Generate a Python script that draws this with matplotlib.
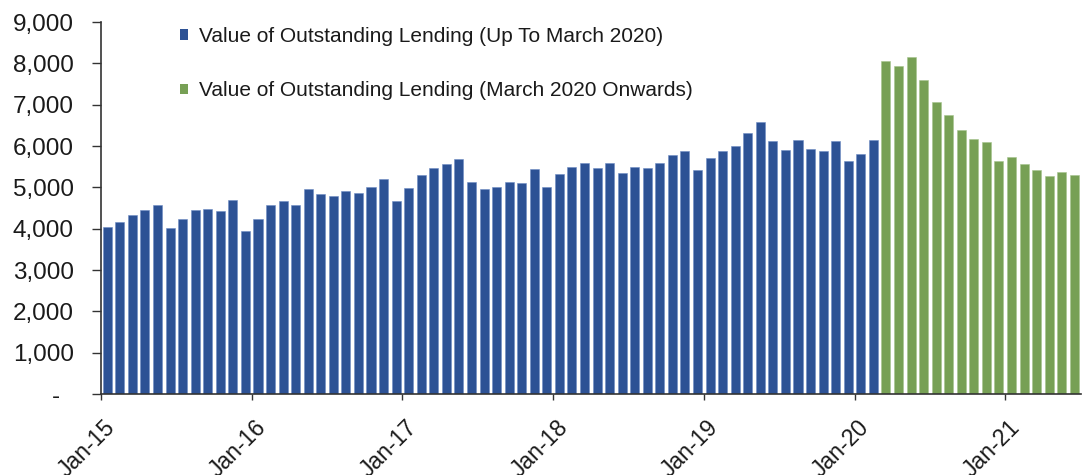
import matplotlib
matplotlib.use("Agg")
import matplotlib.pyplot as plt
from matplotlib.patches import Patch
from matplotlib.ticker import FuncFormatter, FixedLocator
from matplotlib.transforms import ScaledTranslation

plt.rcParams["font.family"] = ["Liberation Sans", "DejaVu Sans"]

# Monthly value of outstanding lending, Jan-2015 .. Feb-2020
lending_to_feb20 = [
    4050, 4160, 4330, 4450, 4570, 4020, 4230, 4450, 4480, 4420, 4700, 3950,
    4230, 4580, 4670, 4580, 4950, 4830, 4800, 4920, 4860, 5010, 5200, 4680,
    4980, 5290, 5470, 5570, 5690, 5140, 4950, 5020, 5140, 5100, 5440, 5020,
    5320, 5500, 5600, 5470, 5600, 5350, 5500, 5470, 5600, 5780, 5870, 5420,
    5720, 5870, 5990, 6310, 6580, 6120, 5900, 6150, 5940, 5870, 6120, 5630,
    5820, 6150,
]
# Mar-2020 .. Jun-2021
lending_from_mar20 = [
    8060, 7940, 8150, 7590, 7060, 6760, 6380, 6160, 6100, 5630,
    5730, 5570, 5420, 5270, 5380, 5300,
]
year_labels = ["Jan-15", "Jan-16", "Jan-17", "Jan-18", "Jan-19", "Jan-20", "Jan-21"]
series_names = [
    "Value of Outstanding Lending (Up To March 2020)",
    "Value of Outstanding Lending (March 2020 Onwards)",
]

BLUE = "#2D5295"
GREEN = "#77A055"
TEXT = "#1a1a1a"

n_before = len(lending_to_feb20)
n_after = len(lending_from_mar20)
n_total = n_before + n_after

fig = plt.figure(figsize=(10.86, 4.75), dpi=100)
ax = fig.add_axes([0.093, 0.1705, 0.902, 0.783])

x_before = [i + 0.5 for i in range(n_before)]
x_after = [n_before + i + 0.5 for i in range(n_after)]
ax.bar(x_before, lending_to_feb20, width=0.72, color=BLUE, edgecolor="#6f8cc4", linewidth=0.4)
ax.bar(x_after, lending_from_mar20, width=0.72, color=GREEN, edgecolor="#a6c48e", linewidth=0.4)

ax.set_xlim(0, n_total)
ax.set_ylim(0, 9000)

# y axis
ax.set_yticks(range(0, 9001, 1000))
ax.yaxis.set_major_formatter(FuncFormatter(lambda v, p: "-  " if v == 0 else f"{int(v):,}"))
ax.tick_params(axis="y", direction="out", length=6.5, width=1, pad=13,
               labelsize=17.5, labelcolor=TEXT, color="#333333")

# x axis: one tick per January
ax.xaxis.set_major_locator(FixedLocator([12 * k for k in range(len(year_labels))]))
ax.set_xticklabels(year_labels, rotation=45, ha="right", va="center",
                   rotation_mode="anchor", fontsize=16.5, color=TEXT)
ax.tick_params(axis="x", direction="out", length=4.5, width=1, pad=2, color="#333333")
offset = ScaledTranslation(11 / 100, -21 / 100, fig.dpi_scale_trans)
for lbl in ax.get_xticklabels():
    lbl.set_transform(lbl.get_transform() + offset)

for side in ("top", "right"):
    ax.spines[side].set_visible(False)
for side in ("left", "bottom"):
    ax.spines[side].set_color("#333333")
    ax.spines[side].set_linewidth(1.2)

handles = [Patch(facecolor=BLUE, edgecolor="none"), Patch(facecolor=GREEN, edgecolor="none")]
fig.legend(handles, series_names, loc="upper left",
           bbox_to_anchor=(180 / 1086, 1 - 27 / 475),
           frameon=False, fontsize=15, handlelength=0.4, handleheight=0.4,
           handletextpad=0.5, labelspacing=1.7, borderpad=0, borderaxespad=0,
           labelcolor=TEXT)

fig.savefig("out.png", dpi=100, facecolor="white")
